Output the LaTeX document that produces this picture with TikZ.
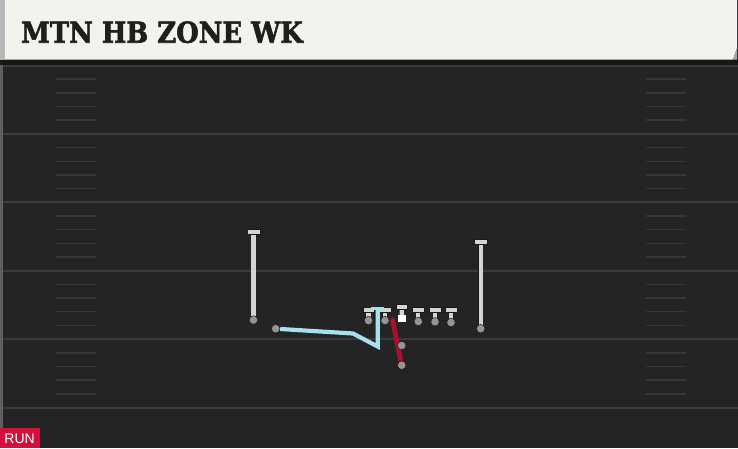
\documentclass[tikz,border=0pt]{standalone}
\usepackage{fontspec}
\setmainfont{DejaVu Serif}
\newfontfamily\runfont{Liberation Sans}
\newfontfamily\titlefont[FakeBold=2.2]{DejaVu Serif Bold}
\usetikzlibrary{arrows.meta}
\definecolor{field}{HTML}{242424}
\definecolor{yardc}{HTML}{3A3A3A}
\definecolor{hashc}{HTML}{373737}
\definecolor{headc}{HTML}{F4F2EC}
\definecolor{stripc}{HTML}{B8B8B8}
\definecolor{shadowc}{HTML}{171717}
\definecolor{tlight}{HTML}{D4D4D4}
\definecolor{tdark}{HTML}{1A1A1A}
\definecolor{circc}{HTML}{959595}
\definecolor{routeblue}{HTML}{A6E1EC}
\definecolor{routered}{HTML}{A5112F}
\definecolor{runbg}{HTML}{D3103B}
\definecolor{titlec}{HTML}{1E1E1E}
\pgfdeclarelayer{bg}
\pgfdeclarelayer{mid}
\pgfsetlayers{bg,mid,main}
\tikzset{
  yard/.style={draw=yardc, line width=2pt},
  hashmark/.style={draw=hashc, line width=1.5pt},
  plr/.style={circle, fill=circc, draw=tdark, line width=0.5pt, minimum size=8.5pt, inner sep=0pt},
  tbar/.style={rectangle, fill=tlight, draw=tdark, line width=0.5pt, minimum height=5pt, inner sep=0pt},
  stem/.style={draw=tlight, line width=4.2pt},
  stemline/.style={draw=tdark, line width=5.4pt},
  ballsq/.style={rectangle, fill=white, minimum size=7.5pt, inner sep=0pt},
  blueroute/.style={draw=routeblue, line width=4.2pt, line join=miter},
  redroute/.style={draw=routered, line width=5pt, -{Triangle[width=5pt,length=4pt]}},
}
\begin{document}
\begin{tikzpicture}[x=1pt,y=-1pt]
\useasboundingbox (0,0) rectangle (738,448);
\begin{pgfonlayer}{bg}
  \fill[field] (0,0) rectangle (738,448);
  \fill[stripc!40!field] (0,59) rectangle (2.5,448);
  \foreach \k in {0,...,5} {
    \draw[yard] (2.5,{65.5+68.4*\k}) -- (738,{65.5+68.4*\k});
  }
  \foreach \k in {0,...,4} {
    \foreach \j in {1,...,4} {
      \draw[hashmark] (56,{65.5+68.4*\k+13.68*\j}) -- (96,{65.5+68.4*\k+13.68*\j});
      \draw[hashmark] (646,{65.5+68.4*\k+13.68*\j}) -- (686,{65.5+68.4*\k+13.68*\j});
    }
  }
  \fill[shadowc] (0,59) rectangle (738,64.5);
  \fill[headc] (0,0) -- (737,0) -- (737,48) -- (733,59.5) -- (0,59.5) -- cycle;
  \fill[gray!70] (737,48) -- (733,59.5) -- (737,59.5) -- cycle;
  \fill[stripc] (0,0) rectangle (5,59.5);
\end{pgfonlayer}

\node[anchor=base west, inner sep=0pt, text=titlec, font=\titlefont\fontsize{28.8}{30}\selectfont, xscale=0.9] (title) at (21,42.7) {MTN HB ZONE WK};

% wide receivers
\node[tbar, minimum width=13.5pt] (wrlt) at (253.5,231.5) {};
\node[plr] (wrl) at (253.5,320) {};
\node[tbar, minimum width=13.5pt] (wrrt) at (480.7,241.5) {};
\node[plr] (wrr) at (480.7,328.7) {};

% offensive line
\node[tbar, minimum width=11.5pt] (olat) at (368.5,309.7) {};
\node[plr] (ola) at (368.5,320.5) {};
\node[tbar, minimum width=11.5pt] (olbt) at (385,309.7) {};
\node[plr] (olb) at (385,320.5) {};
\node[tbar, minimum width=11.5pt] (ct) at (401.7,306.5) {};
\node[ballsq] (ball) at (401.8,318.7) {};
\node[tbar, minimum width=11.5pt] (oldt) at (418.3,309.7) {};
\node[plr] (old) at (418.3,321.5) {};
\node[tbar, minimum width=11.5pt] (olet) at (435,309.7) {};
\node[plr] (ole) at (435,321.8) {};
\node[tbar, minimum width=11.5pt] (olft) at (451,309.7) {};
\node[plr] (olf) at (451,322.5) {};

% backs
\node[plr] (hb) at (401.7,365.2) {};
\coordinate (rtip) at (391.8,316.5);
\node[plr] (te) at (275.7,328.7) {};
\coordinate (b1) at (353,333.5);
\coordinate (b2) at (377.7,346.5);
\coordinate (b3) at (377.7,308.3);
\coordinate (b3l) at (371.3,308.3);
\coordinate (b3r) at (384.1,308.3);

\begin{pgfonlayer}{mid}
  \foreach \a/\b in {wrlt/wrl, wrrt/wrr, olat/ola, olbt/olb, ct/ball, oldt/old, olet/ole, olft/olf} {
    \draw[stemline] (\a.center) -- (\b.center);
  }
  \foreach \a/\b in {wrlt/wrl, wrrt/wrr, olat/ola, olbt/olb, ct/ball, oldt/old, olet/ole, olft/olf} {
    \draw[stem] (\a.center) -- (\b.center);
  }
  \draw[redroute] (hb) -- (rtip);
\end{pgfonlayer}

\node[plr] (qb) at (401.7,345.5) {};

\draw[blueroute] (te) -- (b1) -- (b2) -- (b3);
\draw[blueroute, line width=3.6pt] (b3l) -- (b3r);

% run tag
\fill[runbg] (0,428) rectangle (40,448);
\node[anchor=base west, inner sep=0pt, text=white, font=\runfont\fontsize{14}{14}\selectfont] (runlbl) at (4.3,443.3) {RUN};
\end{tikzpicture}
\end{document}
